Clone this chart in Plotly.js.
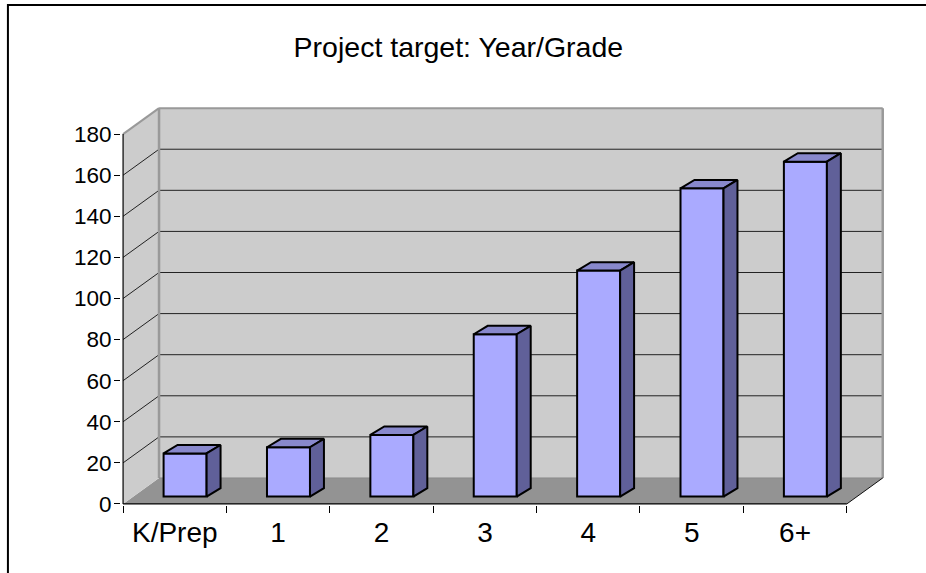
<!DOCTYPE html>
<html>
<head>
<meta charset="utf-8">
<script src="https://cdn.plot.ly/plotly-3.0.1.min.js"></script>
<style>html,body{margin:0;padding:0;background:#fff;}#chart{width:926px;height:573px;}</style>
</head>
<body>
<div id="chart"></div>
<script>
// ---- data ----
const categories = ['K/Prep', '1', '2', '3', '4', '5', '6+'];
const values = [21, 24, 30, 79, 110, 150, 163];
const yTickValues = [0, 20, 40, 60, 80, 100, 120, 140, 160, 180];
const yMax = 180;

// ---- pseudo-3D geometry (axis units) ----
const N = categories.length;
const DX = 0.348, DY = 12.65;   // wall depth offset
const BX = 0.10, BY = 3.6;      // bar front plane offset
const HW = 0.208;               // bar half width
const DDX = 0.135, DDY = 4.1;   // bar depth offset

const frontColor = '#AAAAFF', topColor = '#8888CC', sideColor = '#606099';
const wallColor = '#CCCCCC', floorColor = '#939393', edgeGray = '#999999';

const shapes = [];
function poly(pts, fill) {
  let p = 'M ' + pts.map(q => q[0] + ',' + q[1]).join(' L ') + ' Z';
  shapes.push({type: 'path', xref: 'x', yref: 'y', path: p, fillcolor: fill,
    line: {color: 'rgba(0,0,0,0)', width: 0}, layer: 'below'});
}
function seg(x0, y0, x1, y1, color, w) {
  shapes.push({type: 'line', xref: 'x', yref: 'y', x0, y0, x1, y1,
    line: {color, width: w}, layer: 'below'});
}
// floor, side wall, back wall
poly([[0, 0], [N, 0], [N + DX, DY], [DX, DY]], floorColor);
poly([[0, 0], [DX, DY], [DX, yMax + DY], [0, yMax]], wallColor);
poly([[DX, DY], [N + DX, DY], [N + DX, yMax + DY], [DX, yMax + DY]], wallColor);
// gridlines
yTickValues.forEach(v => {
  if (v === 0 || v === yMax) return;
  seg(0, v, DX, v + DY, '#222222', 1);
  seg(DX, v + DY, N + DX, v + DY, '#222222', 1);
});
// wall edges
seg(0, yMax, DX, yMax + DY, edgeGray, 2);
seg(DX, yMax + DY, N + DX, yMax + DY, edgeGray, 2);
seg(N + DX, DY, N + DX, yMax + DY, edgeGray, 2.5);
seg(DX, DY, DX, yMax + DY, edgeGray, 2.5);
seg(DX, DY, N + DX, DY, '#8a8a8a', 1);
// floor right edge and front axis lines
seg(N, 0, N + DX, DY, '#111111', 1);
seg(0, 0, N, 0, '#000000', 1.2);
seg(0, 0, 0, yMax, '#000000', 1.2);

// bar faces
const topX = [], topY = [], sideX = [], sideY = [];
values.forEach((v, i) => {
  const xl = i + 0.5 - HW + BX, xr = i + 0.5 + HW + BX;
  const yt = BY + v;
  topX.push(xl, xr, xr + DDX, xl + DDX, xl, null);
  topY.push(yt, yt, yt + DDY, yt + DDY, yt, null);
  sideX.push(xr, xr + DDX, xr + DDX, xr, xr, null);
  sideY.push(BY, BY + DDY, yt + DDY, yt, BY, null);
});

const data = [
  {type: 'bar', x: values.map((v, i) => i + 0.5 + BX), y: values, base: BY,
   width: 2 * HW, marker: {color: frontColor, line: {color: '#000', width: 2}},
   hoverinfo: 'skip', showlegend: false},
  {type: 'scatter', mode: 'lines', x: topX, y: topY, fill: 'toself', fillcolor: topColor,
   line: {color: '#000', width: 2}, hoverinfo: 'skip', showlegend: false},
  {type: 'scatter', mode: 'lines', x: sideX, y: sideY, fill: 'toself', fillcolor: sideColor,
   line: {color: '#000', width: 2}, hoverinfo: 'skip', showlegend: false}
];

const labelVals = categories.map((c, i) => i + 0.5);
const boundaryVals = [];
for (let i = 0; i <= N; i++) boundaryVals.push(i);

const font = {family: 'Liberation Sans, Arial, sans-serif', color: '#000'};
const xRange = [-0.02, N + 0.37];
const layout = {
  width: 926, height: 573,
  margin: {l: 121, r: 41, t: 107, b: 68},
  paper_bgcolor: '#fff', plot_bgcolor: '#fff',
  title: {text: 'Project target: Year/Grade', font: Object.assign({size: 28.5}, font),
          xref: 'container', x: 0.495, yref: 'container', y: 0.918, yanchor: 'middle', xanchor: 'center'},
  xaxis: {range: xRange, tickmode: 'array', tickvals: labelVals, ticktext: categories,
          ticks: '', ticklabelstandoff: 8,
          showgrid: false, zeroline: false, showline: false,
          tickfont: Object.assign({size: 28}, font), fixedrange: true},
  xaxis2: {range: xRange, overlaying: 'x', anchor: 'y', side: 'bottom',
           tickmode: 'array', tickvals: boundaryVals, showticklabels: false,
           ticks: 'outside', ticklen: 7, tickwidth: 1, tickcolor: '#000',
           showgrid: false, zeroline: false, showline: false, fixedrange: true},
  yaxis: {range: [-0.5, yMax + DY + 0.55], tickmode: 'array', tickvals: yTickValues,
          ticks: 'outside', ticklen: 6, tickwidth: 1, tickcolor: '#000',
          ticklabelstandoff: -2,
          showgrid: false, zeroline: false, showline: false,
          tickfont: Object.assign({size: 22.5}, font), fixedrange: true},
  bargap: 0,
  shapes: shapes.concat([
    {type: 'path', xref: 'paper', yref: 'paper',
     path: 'M -0.148,-0.4 L -0.148,1.256 L 1.3,1.256',
     line: {color: '#000', width: 2}, layer: 'above'}
  ])
};

// invisible trace so the boundary-tick axis is drawn
data.push({type: 'scatter', x: [0], y: [0], xaxis: 'x2', yaxis: 'y', mode: 'markers',
           marker: {opacity: 0}, hoverinfo: 'skip', showlegend: false});

Plotly.newPlot('chart', data, layout, {displayModeBar: false, staticPlot: true});
</script>
</body>
</html>
